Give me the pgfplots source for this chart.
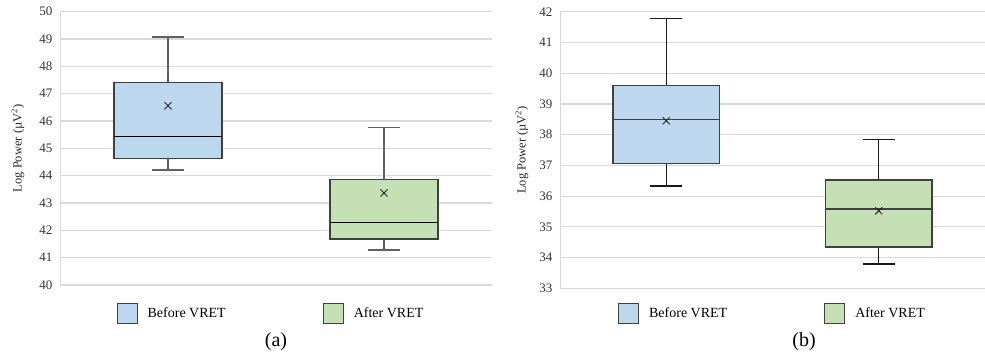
\documentclass[border=0pt]{standalone}
\usepackage{fontspec}
\setmainfont{Liberation Serif}
\usepackage{pgfplots}
\pgfplotsset{compat=1.18}
\definecolor{bfill}{HTML}{BDD7EE}
\definecolor{gfill}{HTML}{C5E0B4}
\definecolor{gridc}{HTML}{D9D9D9}
\definecolor{edge}{HTML}{404040}
\pgfplotsset{
  panel/.style={
    scale only axis,
    xmin=0.5, xmax=2.5,
    xtick=\empty,
    ytick distance=1,
    ymajorgrids,
    grid style={draw=gridc, line width=1.2pt},
    axis lines*=left,
    x axis line style={draw=none},
    y axis line style={draw=gridc, line width=0.9pt},
    major tick length=0pt,
    unbounded coords=jump,
    tick label style={font=\fontsize{13}{15}\selectfont, text=black!80},
    /pgf/number format/assume math mode=true,
    yticklabel style={xshift=-4pt},
    ylabel={Log Power (µV\textsuperscript{2})},
    ylabel style={font=\fontsize{12.5}{14}\selectfont, text=black!85, at={(axis description cs:0,0.5)}, anchor=center},
    legend style={at={(0.5,0)}, anchor=north, draw=none, fill=none,
      font=\fontsize{14}{16}\selectfont, column sep=8pt,
      /tikz/every even column/.append style={column sep=95pt}},
    legend columns=2,
    legend cell align=left,
  },
  sq/.style={legend image code/.code={\draw[##1, line width=1pt, draw=edge] (0pt,-10pt) rectangle (20pt,10pt);}},
  boxst/.style={draw=edge, line width=1.4pt, forget plot},
  meanst/.style={only marks, mark=x, mark size=5pt, black!85, mark options={line width=0.9pt}, forget plot},
}
\begin{document}
\begin{tikzpicture}
\useasboundingbox (0,0) rectangle (985pt,360pt);
% ---------- (a)
\begin{axis}[panel, width=432pt, height=273.3pt, at={(60pt,75pt)}, anchor=south west,
  ymin=40, ymax=50, ylabel style={yshift=42pt},
  legend style={xshift=-5pt, yshift=-16pt}]
\addlegendimage{sq, fill=bfill}\addlegendentry{Before VRET}
\addlegendimage{sq, fill=gfill}\addlegendentry{After VRET}
% whiskers
\addplot[draw=black!62, line width=1.3pt, forget plot] coordinates {
  (1,47.42) (1,49.07) (1,nan) (0.925,49.07) (1.075,49.07) (1,nan)
  (1,44.62) (1,44.21) (1,nan) (0.925,44.21) (1.075,44.21) (1,nan)
  (2,43.86) (2,45.77) (2,nan) (1.925,45.77) (2.075,45.77) (2,nan)
  (2,41.69) (2,41.28) (2,nan) (1.925,41.28) (2.075,41.28)};
% boxes
\addplot[boxst, fill=bfill] coordinates {(0.75,44.62) (1.25,44.62) (1.25,47.42) (0.75,47.42)} -- cycle;
\addplot[boxst, fill=gfill] coordinates {(1.75,41.69) (2.25,41.69) (2.25,43.86) (1.75,43.86)} -- cycle;
% medians
\addplot[draw=black, line width=0.9pt, forget plot] coordinates {(0.75,45.42) (1.25,45.42) (1,nan) (1.75,42.28) (2.25,42.28)};
% means
\addplot[meanst] coordinates {(1,46.56) (2,43.37)};
\end{axis}
\node[font=\fontsize{20}{22}\selectfont] at (276pt,18pt) {(a)};
% ---------- (b)
\begin{axis}[panel, width=425pt, height=276.6pt, at={(560pt,71.7pt)}, anchor=south west,
  ymin=33, ymax=42, ylabel style={yshift=38pt},
  legend style={yshift=-12pt}]
\addlegendimage{sq, fill=bfill}\addlegendentry{Before VRET}
\addlegendimage{sq, fill=gfill}\addlegendentry{After VRET}
\addplot[draw=black!90, line width=1.2pt, forget plot] coordinates {
  (1,39.59) (1,41.77) (1,nan) (0.925,41.77) (1.075,41.77) (1,nan)
  (1,37.06) (1,36.33) (1,nan) (0.925,36.33) (1.075,36.33) (1,nan)
  (2,36.53) (2,37.83) (2,nan) (1.925,37.83) (2.075,37.83) (2,nan)
  (2,34.34) (2,33.79) (2,nan) (1.925,33.79) (2.075,33.79)};
\addplot[boxst, fill=bfill] coordinates {(0.75,37.06) (1.25,37.06) (1.25,39.59) (0.75,39.59)} -- cycle;
\addplot[boxst, fill=gfill] coordinates {(1.75,34.34) (2.25,34.34) (2.25,36.53) (1.75,36.53)} -- cycle;
\addplot[draw=edge, line width=1.3pt, forget plot] coordinates {(0.75,38.50) (1.25,38.50) (1,nan) (1.75,35.58) (2.25,35.58)};
\addplot[meanst] coordinates {(1,38.45) (2,35.52)};
\end{axis}
\node[font=\fontsize{20}{22}\selectfont] at (804pt,18pt) {(b)};
\end{tikzpicture}
\end{document}
